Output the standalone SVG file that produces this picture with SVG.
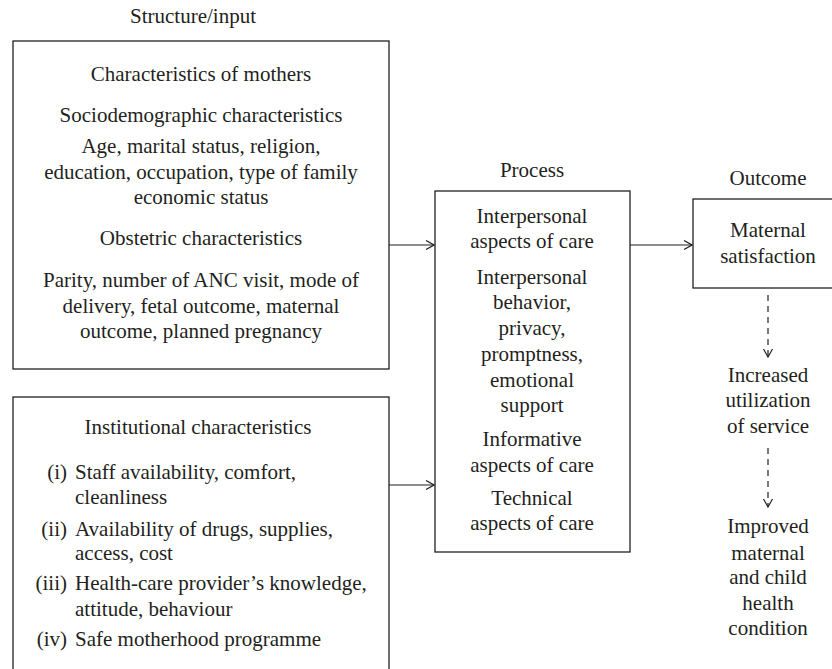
<svg xmlns="http://www.w3.org/2000/svg" width="832" height="669" viewBox="0 0 832 669">
<defs>
<style>
text{font-family:"Liberation Serif","DejaVu Serif",serif;font-size:21px;fill:#231f20}
.c{text-anchor:middle}
.box{fill:none;stroke:#231f20;stroke-width:1.3}
.ln{fill:none;stroke:#231f20;stroke-width:1.2}
.dash{stroke-dasharray:6,5}
</style>
<marker id="ah" viewBox="0 0 10 10" refX="9" refY="5" markerWidth="10" markerHeight="10" markerUnits="userSpaceOnUse" orient="auto">
<path d="M1,0.5 L9,5 L1,9.5" fill="none" stroke="#231f20" stroke-width="1.2"/>
</marker>
</defs>
<rect width="832" height="669" fill="#fff"/>
<text class="c" x="193" y="23">Structure/input</text>
<text class="c" x="532" y="177">Process</text>
<text class="c" x="768" y="185">Outcome</text>
<g id="mothers">
<rect class="box" x="13" y="41" width="376" height="328"/>
<text class="c" x="201" y="81">Characteristics of mothers</text>
<text class="c" x="201" y="122">Sociodemographic characteristics</text>
<text class="c" x="201" y="153">Age, marital status, religion,</text>
<text class="c" x="201" y="179">education, occupation, type of family</text>
<text class="c" x="201" y="204">economic status</text>
<text class="c" x="201" y="245">Obstetric characteristics</text>
<text class="c" x="201" y="287">Parity, number of ANC visit, mode of</text>
<text class="c" x="201" y="313">delivery, fetal outcome, maternal</text>
<text class="c" x="201" y="338">outcome, planned pregnancy</text>
</g>
<g id="institutional">
<rect class="box" x="13" y="397" width="376" height="290"/>
<text class="c" x="198" y="434">Institutional characteristics</text>
<text x="67" y="479" text-anchor="end">(i)</text>
<text x="75" y="479">Staff availability, comfort,</text>
<text x="75" y="504">cleanliness</text>
<text x="67" y="536" text-anchor="end">(ii)</text>
<text x="75" y="536">Availability of drugs, supplies,</text>
<text x="75" y="560">access, cost</text>
<text x="67" y="590" text-anchor="end">(iii)</text>
<text x="75" y="590">Health-care provider’s knowledge,</text>
<text x="75" y="616">attitude, behaviour</text>
<text x="67" y="646" text-anchor="end">(iv)</text>
<text x="75" y="646">Safe motherhood programme</text>
</g>
<g id="process">
<rect class="box" x="435" y="191" width="195" height="361"/>
<text class="c" x="532" y="223">Interpersonal</text>
<text class="c" x="532" y="248">aspects of care</text>
<text class="c" x="532" y="284">Interpersonal</text>
<text class="c" x="532" y="309">behavior,</text>
<text class="c" x="532" y="335">privacy,</text>
<text class="c" x="532" y="361">promptness,</text>
<text class="c" x="532" y="387">emotional</text>
<text class="c" x="532" y="412">support</text>
<text class="c" x="532" y="446">Informative</text>
<text class="c" x="532" y="472">aspects of care</text>
<text class="c" x="532" y="505">Technical</text>
<text class="c" x="532" y="530">aspects of care</text>
</g>
<g id="satisfaction">
<rect class="box" x="693" y="199" width="145" height="89"/>
<text class="c" x="768" y="237">Maternal</text>
<text class="c" x="768" y="263">satisfaction</text>
</g>
<g id="utilization">
<text class="c" x="768" y="382">Increased</text>
<text class="c" x="768" y="407">utilization</text>
<text class="c" x="768" y="433">of service</text>
</g>
<g id="health">
<text class="c" x="768" y="533">Improved</text>
<text class="c" x="768" y="560">maternal</text>
<text class="c" x="768" y="584">and child</text>
<text class="c" x="768" y="610">health</text>
<text class="c" x="768" y="635">condition</text>
</g>
<g id="connectors">
<line class="ln" x1="389" y1="245" x2="434" y2="245" marker-end="url(#ah)"/>
<line class="ln" x1="389" y1="485" x2="434" y2="485" marker-end="url(#ah)"/>
<line class="ln" x1="630" y1="245" x2="692" y2="245" marker-end="url(#ah)"/>
<line class="ln dash" x1="768" y1="295" x2="768" y2="357" marker-end="url(#ah)"/>
<line class="ln dash" x1="768" y1="448" x2="768" y2="507" marker-end="url(#ah)"/>
</g>
</svg>
